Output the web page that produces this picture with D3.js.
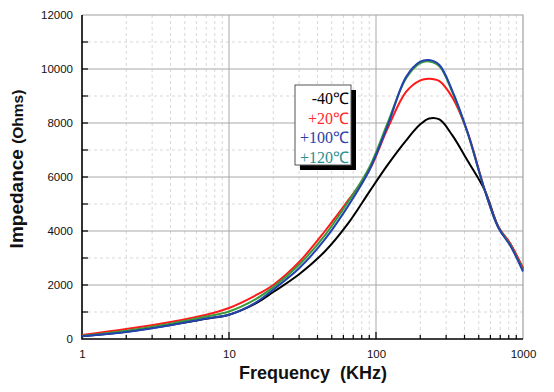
<!DOCTYPE html>
<html><head><meta charset="utf-8">
<script src="https://cdn.jsdelivr.net/npm/d3@7"></script>
<style>body{margin:0;background:#fff}svg{display:block}</style>
</head><body>
<svg id="c" width="554" height="392"></svg>
<script>
const freqs = [1, 2, 4, 7, 10, 15, 20, 30, 45, 65, 90, 120, 160, 200, 230, 270, 330, 420, 550, 680, 820, 1000];
const seriesNames = ["-40℃", "+20℃", "+100℃", "+120℃"];
const valsM40  = [100, 270, 520, 750, 900, 1300, 1740, 2400, 3250, 4300, 5450, 6450, 7350, 7950, 8170, 8130, 7550, 6600, 5500, 4150, 3520, 2600];
const valsP20  = [150, 370, 630, 900, 1150, 1600, 2000, 2850, 4000, 5150, 6250, 7800, 9150, 9580, 9640, 9550, 8950, 7650, 5520, 4150, 3530, 2620];
const valsP100 = [100, 260, 510, 760, 900, 1330, 1830, 2620, 3700, 4950, 6250, 7900, 9700, 10270, 10330, 10150, 9200, 7650, 5500, 4120, 3450, 2500];
const valsP120 = [120, 310, 570, 830, 1020, 1460, 1920, 2750, 3850, 5100, 6350, 8000, 9650, 10220, 10280, 10100, 9150, 7620, 5500, 4130, 3480, 2550];
const lineColors = ["#000000", "#ff1a1a", "#2342b0", "#3a9a3a"];
const legendColors = ["#000000", "#ff2a2a", "#2b3fa8", "#2a9090"];
const yTicks = [0, 2000, 4000, 6000, 8000, 10000, 12000];
const xTicks = [1, 10, 100, 1000];

const svg = d3.select("#c");
const L = 82, R = 523, T = 15, B = 339;
const x = d3.scaleLog().domain([1, 1000]).range([L, R]);
const y = d3.scaleLinear().domain([0, 12000]).range([B, T]);

// minor grid
const minorX = [];
for (let d = 1; d < 1000; d *= 10) for (let k = 2; k <= 9; k++) minorX.push(d * k);
const minorY = d3.range(1000, 12000, 2000);
const g = svg.append("g");
g.selectAll(".mx").data(minorX).join("line")
  .attr("x1", d => x(d)).attr("x2", d => x(d)).attr("y1", T).attr("y2", B)
  .attr("stroke", "#d8d8d8").attr("stroke-dasharray", "3,3");
g.selectAll(".my").data(minorY).join("line")
  .attr("x1", L).attr("x2", R).attr("y1", d => y(d)).attr("y2", d => y(d))
  .attr("stroke", "#d8d8d8").attr("stroke-dasharray", "3,3");
// major grid
g.selectAll(".Mx").data([10, 100]).join("line")
  .attr("x1", d => x(d)).attr("x2", d => x(d)).attr("y1", T).attr("y2", B)
  .attr("stroke", "#a8a8a8");
g.selectAll(".My").data(yTicks.slice(1, -1)).join("line")
  .attr("x1", L).attr("x2", R).attr("y1", d => y(d)).attr("y2", d => y(d))
  .attr("stroke", "#a8a8a8");
// frame top/right
svg.append("path").attr("d", `M${L},${T}H${R}V${B}`).attr("fill", "none").attr("stroke", "#a0a0a0").attr("stroke-width", 1.2);

// axes
const yAxis = d3.axisLeft(y).tickValues(yTicks).tickFormat(d3.format("d")).tickSize(0).tickPadding(9);
const ya = svg.append("g").attr("transform", `translate(${L},0)`).call(yAxis);
ya.select(".domain").remove();
ya.selectAll("text").attr("font-family", "Arial, 'Liberation Sans', sans-serif").attr("font-size", 11.5).attr("fill", "#111");
const xAxis = d3.axisBottom(x).tickValues(xTicks).tickFormat(d3.format("d")).tickSize(0).tickPadding(11);
const xa = svg.append("g").attr("transform", `translate(0,${B})`).call(xAxis);
xa.select(".domain").remove();
xa.selectAll("text").attr("font-family", "Arial, 'Liberation Sans', sans-serif").attr("font-size", 11.5).attr("fill", "#111");

// inward ticks
svg.selectAll(".ytk").data(d3.range(1000, 12000, 1000)).join("line")
  .attr("x1", L).attr("x2", L + 6).attr("y1", d => y(d)).attr("y2", d => y(d))
  .attr("stroke", "#000").attr("stroke-width", 1.2);
svg.selectAll(".xtk").data(minorX.concat([10, 100])).join("line")
  .attr("x1", d => x(d)).attr("x2", d => x(d)).attr("y1", B).attr("y2", d => [10, 100].includes(d) ? B - 7 : B - 4)
  .attr("stroke", "#000").attr("stroke-width", 1.2);
svg.append("path").attr("d", `M${L},${T}V${B}H${R}`).attr("fill", "none").attr("stroke", "#000").attr("stroke-width", 1.6);

// curves
const allVals = [valsM40, valsP20, valsP120, valsP100];
const allCols = [lineColors[0], lineColors[1], lineColors[3], lineColors[2]];
const line = d3.line().x((d, i) => x(freqs[i])).y(d => y(d)).curve(d3.curveCatmullRom.alpha(0.5));
allVals.forEach((v, i) => {
  svg.append("path").datum(v).attr("d", line).attr("fill", "none")
    .attr("stroke", allCols[i]).attr("stroke-width", 2);
});

// legend
const lg = svg.append("g");
lg.append("rect").attr("x", 300).attr("y", 90).attr("width", 56).attr("height", 80).attr("fill", "#000");
lg.append("rect").attr("x", 295).attr("y", 85).attr("width", 56).attr("height", 80).attr("fill", "#fff").attr("stroke", "#555").attr("stroke-width", 1);
seriesNames.forEach((s, i) => {
  lg.append("text").attr("x", 349).attr("y", 104 + i * 19.5).attr("text-anchor", "end")
    .attr("font-family", "'Times New Roman', 'Liberation Serif', serif").attr("font-size", 16)
    .attr("fill", legendColors[i]).text(s);
});

// titles
svg.append("text").attr("x", 313).attr("y", 379).attr("text-anchor", "middle")
  .attr("font-family", "Arial, 'Liberation Sans', sans-serif").attr("font-weight", "bold").attr("font-size", 18)
  .attr("fill", "#111").attr("xml:space", "preserve").text("Frequency  (KHz)");
const yt = svg.append("text").attr("transform", "translate(23,169) rotate(-90)").attr("text-anchor", "middle")
  .attr("font-family", "Arial, 'Liberation Sans', sans-serif").attr("font-weight", "bold").attr("fill", "#111");
yt.append("tspan").attr("font-size", 19).text("Impedance ");
yt.append("tspan").attr("font-size", 15.5).text("(Ohms)");
</script>
</body></html>
